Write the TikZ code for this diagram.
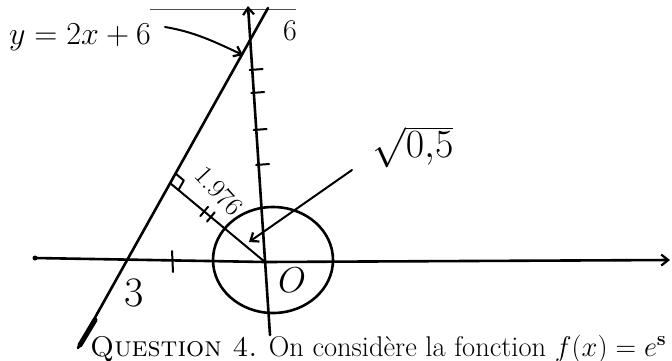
\RequirePackage{fix-cm}
\documentclass[tikz,border=0pt]{standalone}
\usetikzlibrary{arrows.meta,calc}
\begin{document}
\begin{tikzpicture}[x=1pt,y=-1pt,
  pen/.style={line width=2.6pt,line cap=round,line join=round},
  thinpen/.style={line width=2pt,line cap=round,line join=round},
  barb/.style={-{Straight Barb[length=7pt,width=11pt,line width=2.2pt]}},
  hand/.style={inner sep=0pt,font=\fontsize{#1}{#1}\selectfont},
]
\useasboundingbox (0,0) rectangle (672,360);
% scan edge
\draw[line width=1pt,gray!60!black] (150,9) -- (296,9);
% key points
\coordinate (O) at (265,262);
\coordinate (xl) at (35,258);
\coordinate (xr) at (670,260);
\coordinate (yb) at (270,335);
\coordinate (yt) at (248,6);
\coordinate (A) at (78,348);
\coordinate (B) at (268,8);
\coordinate (F) at (170,183);
% axes
\draw[pen] (xl) -- (O);
\draw[pen,barb] (O) -- (xr);
\fill (xl) circle (2.5pt);
\draw[pen,barb] (yb) -- (yt);
% y ticks
\foreach \yy in {70,93,130,165}{
  \pgfmathsetmacro{\xx}{248+22*\yy/329}
  \draw[thinpen] (\xx-3,\yy) -- (\xx+10,\yy-1);
}
% x tick
\draw[thinpen] (172,251) -- (173,272);
% line y=2x+6
\draw[pen] (A) -- (B);
\draw[line width=5pt,line cap=round] (80,345) -- (95,320);
% perpendicular
\draw[thinpen] (F) -- (O);
\coordinate (P1) at ($(F)!11pt!(O)$);
\coordinate (P2) at ($(F)!11pt!(B)$);
\draw[thinpen] (P1) -- ($(P1)+(P2)-(F)$) -- (P2);
\coordinate (T1) at ($(F)!0.36!(O)$);
\draw[thinpen] ($(T1)!6pt!90:(O)$) -- ($(T1)!6pt!-90:(O)$);
\coordinate (T2) at ($(F)!0.43!(O)$);
\draw[thinpen] ($(T2)!6pt!90:(O)$) -- ($(T2)!6pt!-90:(O)$);
\node[hand=27,rotate=-47] (d) at (219,191) {1.976};
% circle
\draw[pen] (273,260) ellipse [x radius=60, y radius=53];
% radius line
\coordinate (rs) at (352,170);
\coordinate (re) at (249,242);
\draw[thinpen,barb] (rs) -- (re);
\node[hand=40] (sq) at (413,147) {$\sqrt{0{,}5}$};
% labels
\node[hand=32] (eq) at (80,37) {$y=2x+6$};
\coordinate (s1) at (165,27);
\coordinate (tipA) at (243,55);
\draw[thinpen,barb] (s1) .. controls (195,32) and (215,42) .. (tipA);
\node[hand=30] (six) at (290,31) {6};
\node[hand=42] (three) at (134,293) {3};
\node[hand=36] (o) at (292,280) {$O$};
% caption
\node[anchor=base west,inner sep=0pt,font=\fontsize{28.5}{32}\selectfont] (cap) at (90,356)
  {\textsc{Question 4.} On considère la fonction $f(x) = e^{\mathbf{s}}$};
\end{tikzpicture}
\end{document}
